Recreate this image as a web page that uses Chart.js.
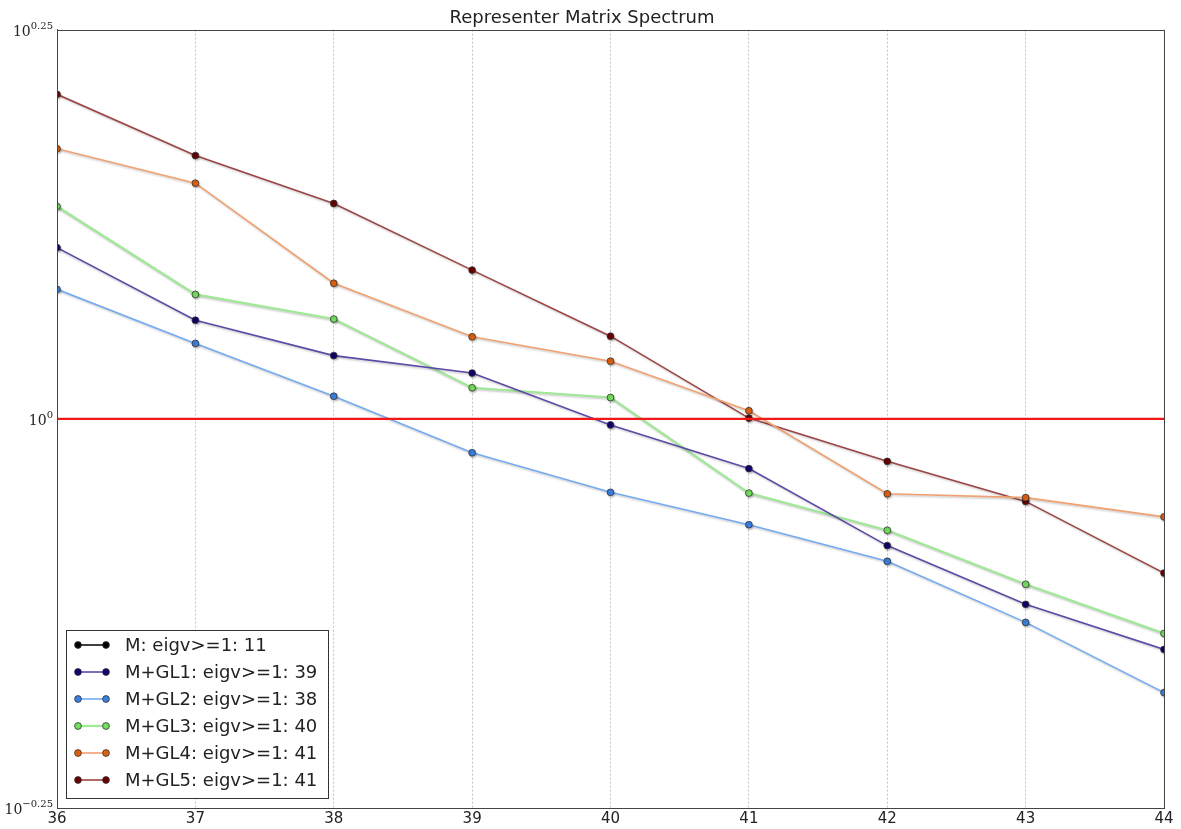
<!DOCTYPE html>
<html>
<head>
<meta charset="utf-8">
<title>Representer Matrix Spectrum</title>
<script src="https://cdn.jsdelivr.net/npm/chart.js@4/dist/chart.umd.min.js"></script>
<style>
  html, body { margin: 0; padding: 0; background: #fff; }
  #wrap { width: 1181px; height: 829px; }
</style>
</head>
<body>
<div id="wrap"><canvas id="grafico" width="1181" height="829"></canvas></div>
<script>
  // eigenvalue index on the x axis
  const indices = [36, 37, 38, 39, 40, 41, 42, 43, 44];

  // eigenvalues per model
  const valM = [];
  const valGL1 = [1.288, 1.157, 1.098, 1.070, 0.991, 0.929, 0.829, 0.760, 0.711];
  const valGL2 = [1.211, 1.118, 1.034, 0.951, 0.897, 0.855, 0.810, 0.740, 0.667];
  const valGL3 = [1.369, 1.202, 1.159, 1.047, 1.032, 0.896, 0.848, 0.783, 0.728];
  const valGL4 = [1.491, 1.417, 1.222, 1.129, 1.089, 1.012, 0.895, 0.890, 0.865];
  const valGL5 = [1.616, 1.476, 1.375, 1.246, 1.130, 1.001, 0.939, 0.885, 0.796];

  const seriesLabels = [
    'M: eigv>=1: 11',
    'M+GL1: eigv>=1: 39',
    'M+GL2: eigv>=1: 38',
    'M+GL3: eigv>=1: 40',
    'M+GL4: eigv>=1: 41',
    'M+GL5: eigv>=1: 41'
  ];

  // threshold line and y ticks (powers of ten)
  const threshold = 1;
  const yTickExps = [-0.25, 0, 0.25];

  const toPoints = vals => vals.map((v, i) => ({ x: indices[i], y: v }));

  function serie(label, vals, line, marker, width) {
    return {
      label: label,
      data: toPoints(vals),
      borderColor: line,
      backgroundColor: marker,
      pointBackgroundColor: marker,
      pointBorderColor: '#333',
      pointBorderWidth: 0.8,
      pointRadius: 3.4,
      borderWidth: width,
      tension: 0,
      shadow: true,
      inLegend: true
    };
  }

  const datasets = [
    {
      label: 'threshold',
      data: [{ x: indices[0], y: threshold }, { x: indices[indices.length - 1], y: threshold }],
      borderColor: '#f01818',
      borderWidth: 2.2,
      pointRadius: 0,
      inLegend: false
    },
    serie(seriesLabels[0], valM, '#000000', '#000000', 1.5),
    serie(seriesLabels[1], valGL1, '#5b4aa6', '#14006e', 1.6),
    serie(seriesLabels[2], valGL2, '#74aaf2', '#3a80e0', 1.6),
    serie(seriesLabels[3], valGL3, '#9fe896', '#72e05e', 2.2),
    serie(seriesLabels[4], valGL4, '#f2a070', '#e06010', 1.6),
    serie(seriesLabels[5], valGL5, '#9c4444', '#6a0000', 1.6)
  ];

  // soft drop shadow under the series lines
  const sombra = {
    id: 'sombra',
    beforeDatasetDraw(chart, args) {
      if (!chart.data.datasets[args.index].shadow) return;
      const ctx = chart.ctx;
      ctx.shadowColor = 'rgba(0,0,0,0.22)';
      ctx.shadowOffsetX = 1;
      ctx.shadowOffsetY = 1.5;
      ctx.shadowBlur = 2;
    },
    afterDatasetDraw(chart) {
      const ctx = chart.ctx;
      ctx.shadowColor = 'rgba(0,0,0,0)';
      ctx.shadowOffsetX = 0;
      ctx.shadowOffsetY = 0;
      ctx.shadowBlur = 0;
    }
  };

  // frame, y labels as 10^x and the boxed legend
  const extras = {
    id: 'extras',
    afterDraw(chart) {
      const ctx = chart.ctx;
      const area = chart.chartArea;
      const y = chart.scales.y;

      ctx.save();
      ctx.strokeStyle = '#444';
      ctx.lineWidth = 1;
      ctx.strokeRect(Math.round(area.left) + 0.5, Math.round(area.top) + 0.5,
        Math.round(area.right - area.left), Math.round(area.bottom - area.top));

      // y tick labels
      ctx.fillStyle = '#222';
      ctx.textAlign = 'right';
      ctx.textBaseline = 'alphabetic';
      yTickExps.forEach(e => {
        const py = y.getPixelForValue(Math.pow(10, e));
        const exp = e === 0 ? '0' : (e < 0 ? '\u2212' : '') + Math.abs(e);
        ctx.font = '10px "DejaVu Serif"';
        const wExp = ctx.measureText(exp).width;
        ctx.fillText(exp, area.left - 4, py - 1);
        ctx.font = '14px "DejaVu Serif"';
        ctx.fillText('10', area.left - 4 - wExp, py + 6);
      });

      // legend
      const box = { x: 66.5, y: 630.5, w: 262, h: 168 };
      ctx.fillStyle = '#fff';
      ctx.fillRect(box.x, box.y, box.w, box.h);
      ctx.strokeStyle = '#333';
      ctx.strokeRect(box.x, box.y, box.w, box.h);
      ctx.font = '18px "DejaVu Sans"';
      ctx.textAlign = 'left';
      ctx.textBaseline = 'middle';
      let row = 0;
      chart.data.datasets.forEach(ds => {
        if (!ds.inLegend) return;
        const cy = 645 + row * 27;
        ctx.strokeStyle = ds.borderColor;
        ctx.lineWidth = ds.borderWidth;
        ctx.beginPath();
        ctx.moveTo(78, cy);
        ctx.lineTo(106, cy);
        ctx.stroke();
        [78, 106].forEach(px => {
          ctx.beginPath();
          ctx.arc(px, cy, 3.4, 0, Math.PI * 2);
          ctx.fillStyle = ds.pointBackgroundColor;
          ctx.fill();
          ctx.lineWidth = 0.8;
          ctx.strokeStyle = '#333';
          ctx.stroke();
        });
        ctx.fillStyle = '#222';
        ctx.fillText(ds.label, 125, cy + 1);
        row++;
      });
      ctx.restore();
    }
  };

  const ctx = document.getElementById('grafico').getContext('2d');
  const chart = new Chart(ctx, {
    type: 'line',
    data: { datasets: datasets },
    plugins: [sombra, extras],
    options: {
      responsive: false,
      animation: false,
      layout: { padding: { left: 0, right: 17, top: 0, bottom: 0 } },
      scales: {
        x: {
          type: 'linear',
          min: indices[0],
          max: indices[indices.length - 1],
          afterFit: axis => { axis.height = 21; },
          ticks: {
            stepSize: 1,
            padding: 2,
            color: '#222',
            font: { family: 'DejaVu Sans', size: 15 }
          },
          grid: { color: '#c4c4c4', lineWidth: 1, drawTicks: false },
          border: { display: true, color: '#444', width: 1, dash: [2, 2] }
        },
        y: {
          type: 'logarithmic',
          bounds: 'data',
          min: Math.pow(10, yTickExps[0]),
          max: Math.pow(10, yTickExps[yTickExps.length - 1]),
          afterBuildTicks: axis => {
            axis.ticks = yTickExps.map(e => ({ value: Math.pow(10, e) }));
          },
          afterFit: axis => { axis.width = 57; },
          ticks: { display: false },
          grid: { display: false, drawTicks: false },
          border: { display: true, color: '#444', width: 1 }
        }
      },
      plugins: {
        legend: { display: false },
        tooltip: { enabled: false },
        title: {
          display: true,
          text: 'Representer Matrix Spectrum',
          color: '#222',
          font: { family: 'DejaVu Sans', size: 18, weight: 'normal' },
          padding: { top: 8, bottom: 0 }
        }
      }
    }
  });
</script>
</body>
</html>
